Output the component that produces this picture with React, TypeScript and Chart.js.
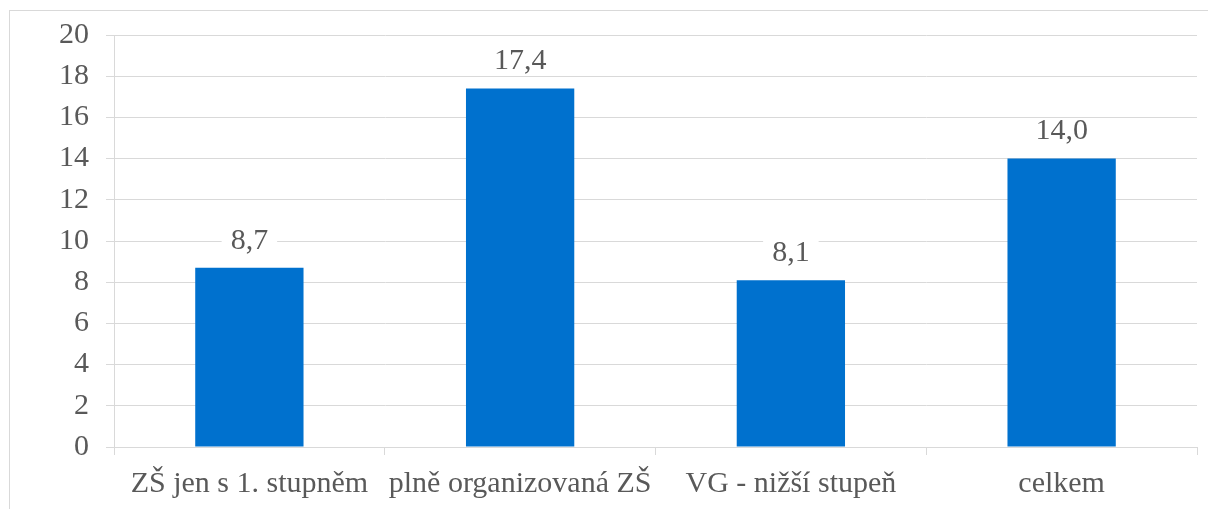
import React, { useEffect, useRef } from "react";
import { Chart, registerables } from "chart.js";

Chart.register(...registerables);

const categories = ["ZŠ jen s 1. stupněm", "plně organizovaná ZŠ", "VG - nižší stupeň", "celkem"];
const values = [8.7, 17.4, 8.1, 14.0];
const yTicks = [0, 2, 4, 6, 8, 10, 12, 14, 16, 18, 20];

const FONT = "'Liberation Serif', 'Times New Roman', serif";
const TEXT = "#595959";
const GRID = "#d9d9d9";
const BAR = "#0071ce";

const valueLabels = {
  id: "valueLabels",
  afterDatasetsDraw(chart: any) {
    const ctx = chart.ctx;
    const meta = chart.getDatasetMeta(0);
    ctx.save();
    ctx.font = `30px ${FONT}`;
    ctx.textAlign = "center";
    ctx.textBaseline = "middle";
    meta.data.forEach((el: any, i: number) => {
      const txt = values[i].toFixed(1).replace(".", ",");
      const w = ctx.measureText(txt).width;
      const cy = el.y - 27;
      ctx.fillStyle = "#ffffff";
      ctx.fillRect(el.x - w / 2 - 9, cy - 13, w + 18, 26);
      ctx.fillStyle = TEXT;
      ctx.fillText(txt, el.x, cy);
    });
    ctx.restore();
  },
};

export default function App() {
  const ref = useRef<HTMLCanvasElement>(null);
  useEffect(() => {
    if (!ref.current) return;
    const chart = new Chart(ref.current, {
      type: "bar",
      data: {
        labels: categories,
        datasets: [
          {
            data: values,
            backgroundColor: BAR,
            barPercentage: 0.4,
            categoryPercentage: 1,
          },
        ],
      },
      options: {
        responsive: false,
        animation: false,
        layout: { padding: { top: 33, right: 11, left: 0, bottom: 0 } },
        plugins: {
          legend: { display: false },
          tooltip: { enabled: false },
          title: { display: false },
        },
        scales: {
          x: {
            grid: {
              offset: true,
              drawOnChartArea: false,
              drawTicks: true,
              tickLength: 8,
              color: GRID,
            },
            border: { color: GRID },
            ticks: {
              font: { family: FONT, size: 30 },
              color: TEXT,
              padding: 11,
              maxRotation: 0,
              autoSkip: false,
            },
            afterFit(scale: any) {
              scale.height = 62;
            },
          },
          y: {
            min: 0,
            max: 20,
            afterBuildTicks(scale: any) {
              scale.ticks = yTicks.map((v) => ({ value: v }));
            },
            grid: { color: GRID, tickLength: 8 },
            border: { color: GRID },
            ticks: {
              font: { family: FONT, size: 30 },
              color: TEXT,
              padding: 17,
            },
            afterFit(scale: any) {
              scale.width = 114;
            },
          },
        },
      },
      plugins: [valueLabels],
    });
    return () => chart.destroy();
  }, []);

  return (
    <div style={{ position: "absolute", left: 0, top: 0, width: 1208, height: 509, background: "#fff", overflow: "hidden" }}>
      <div
        style={{
          position: "absolute",
          left: 9,
          top: 10,
          right: -2,
          bottom: -2,
          borderLeft: `1px solid ${GRID}`,
          borderTop: `1px solid ${GRID}`,
        }}
      />
      <canvas ref={ref} width={1208} height={509} style={{ position: "absolute", left: 0, top: 0 }} />
    </div>
  );
}
